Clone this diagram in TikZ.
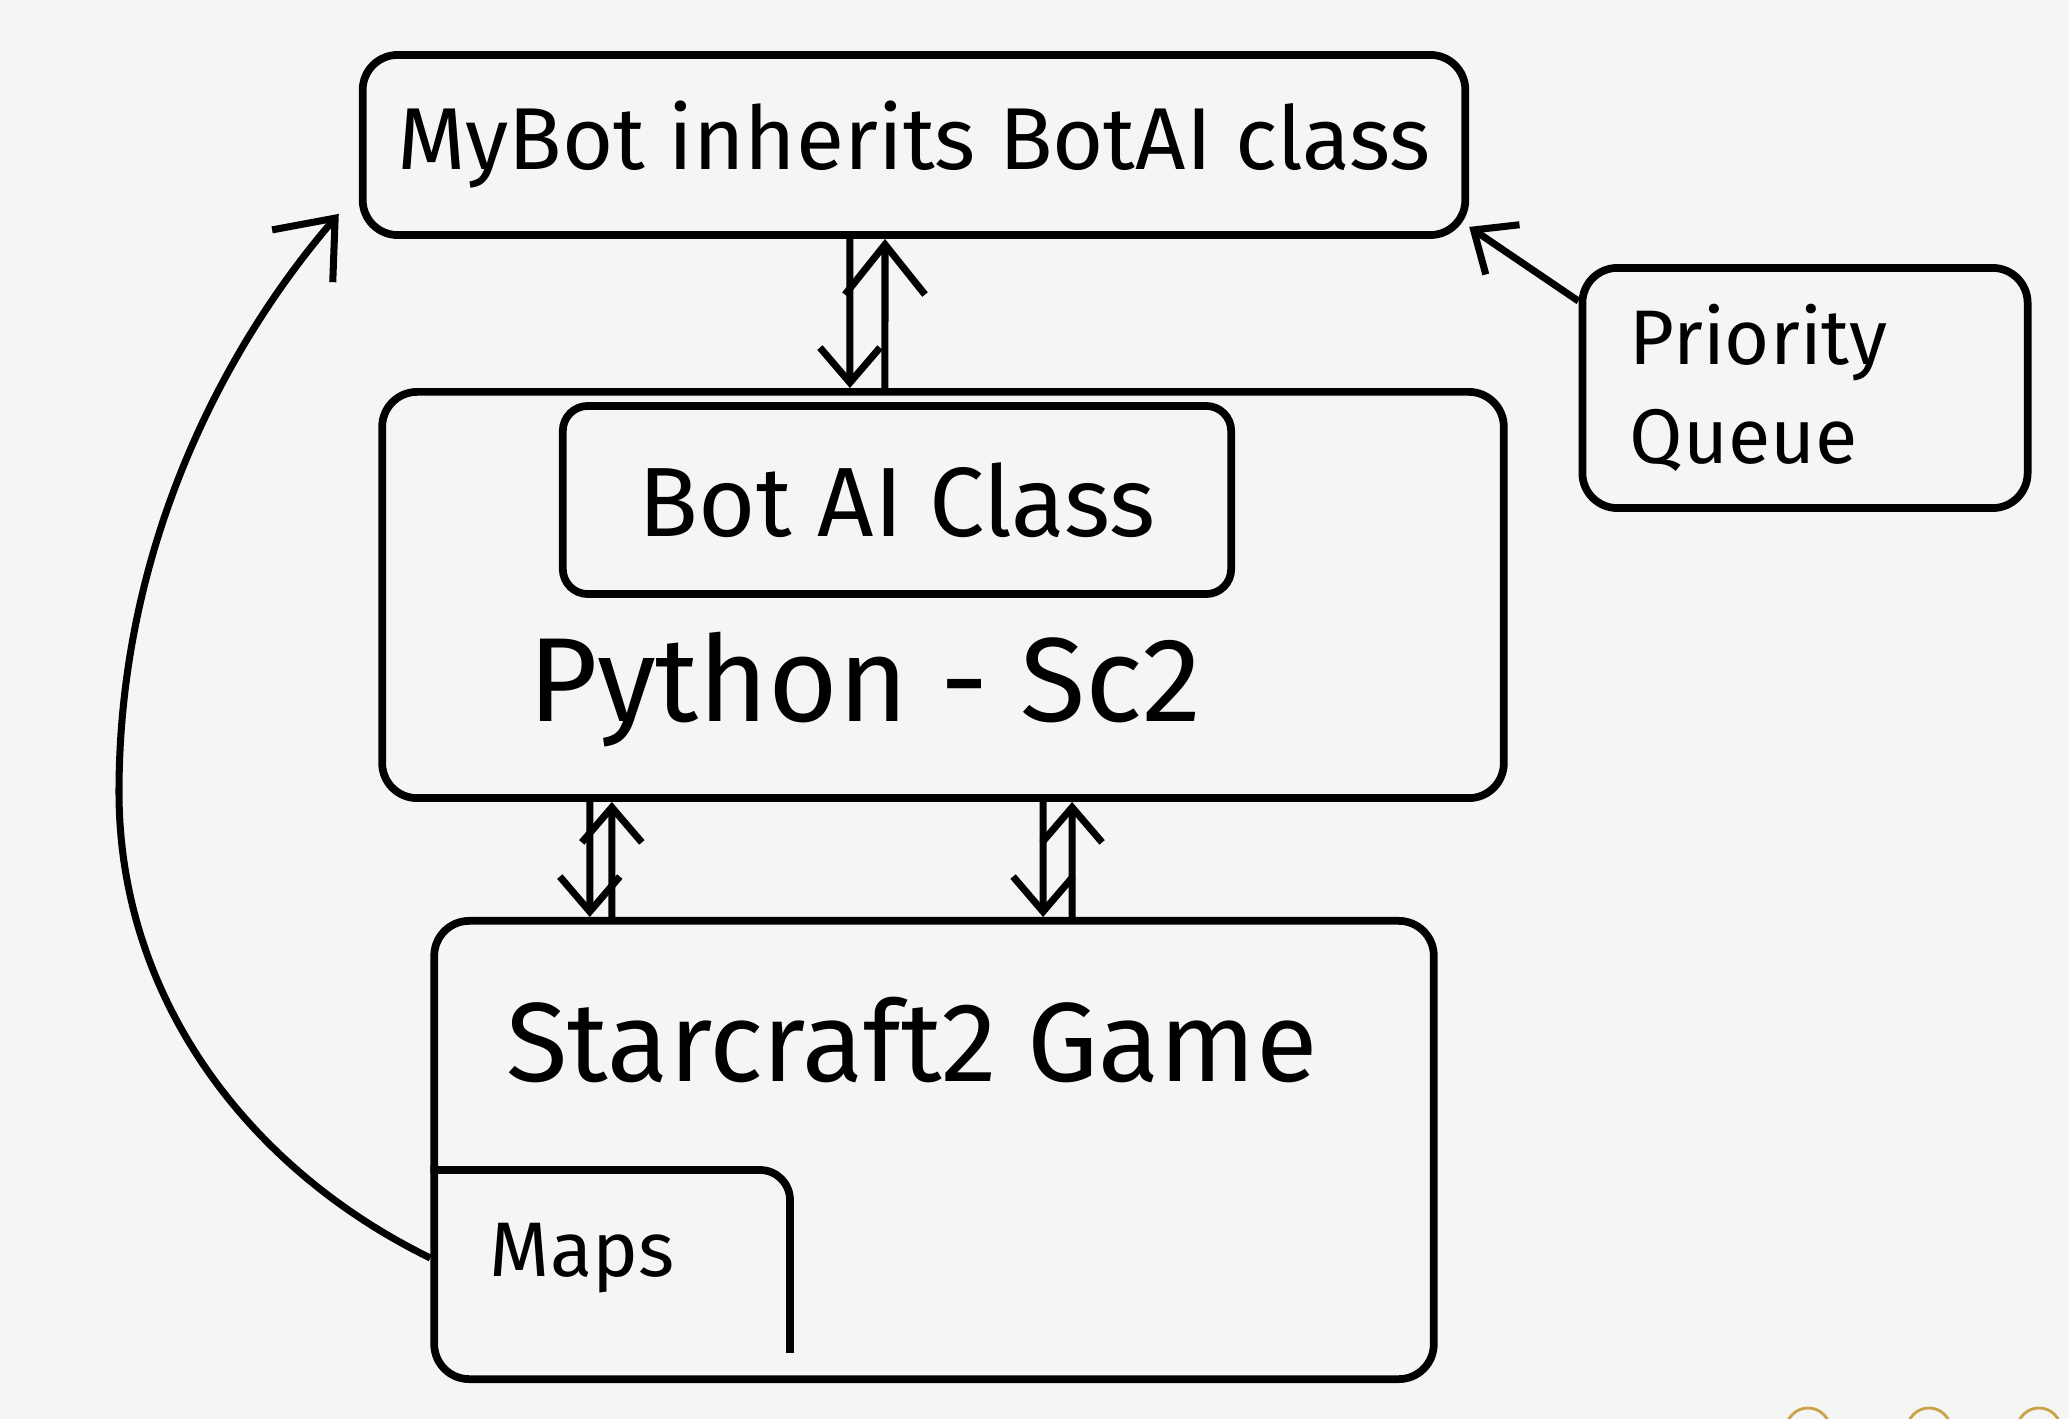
\documentclass[tikz,border=0pt]{standalone}
\usepackage{fontspec}
\setmainfont{Fira Sans}
\usetikzlibrary{arrows.meta}
\definecolor{paper}{HTML}{F5F5F3}
\definecolor{dotring}{HTML}{C9A24A}
\begin{document}
\begin{tikzpicture}[x=0.01cm, y=-0.01cm,
	box/.style={draw=black, line width=2.2pt, rounded corners=0.35cm, inner sep=0pt},
	link/.style={line width=2pt, -{Straight Barb[length=0.35cm, width=0.6cm, line width=2pt]}},
	biglink/.style={line width=2pt, -{Straight Barb[length=0.5cm, width=0.8cm, line width=2pt]}}]
		\fill[paper] (0,0) rectangle (2069,1419);
		\useasboundingbox (0,0) rectangle (2069,1419);
		\node[box, minimum width=11.02cm, minimum height=1.8cm](mybot) at (914,145){\fontsize{25}{30}\selectfont MyBot inherits BotAI class};
		\node[box, minimum width=4.45cm, minimum height=2.4cm, text width=3.5cm, align=left, font=\fontsize{22}{28}\selectfont](queue) at (1805,388){Priority\\Queue};
		\node[box, minimum width=11.21cm, minimum height=4.06cm](python) at (943,595){};
		\node[box, minimum width=6.68cm, minimum height=1.88cm, rounded corners=0.25cm](botai) at (897,500){\fontsize{28}{34}\selectfont Bot AI Class};
		\node(pythonlabel) at (865,690){\fontsize{34}{40}\selectfont Python - Sc2};
		\node[box, minimum width=9.99cm, minimum height=4.58cm](game) at (934,1150){};
		\node(gamelabel) at (912,1040){\fontsize{32}{38}\selectfont Starcraft2 Game};
		\coordinate (mapscorner) at (790,1170);
		\draw[line width=2.2pt, rounded corners=0.3cm] (game.west |- mapscorner) -- (mapscorner) -- ([yshift=0.3cm]mapscorner |- game.south);
		\node(maps) at (582,1258){\fontsize{22}{26}\selectfont Maps};
		% MyBot <-> Python-Sc2
		\draw[link] ([xshift=-0.64cm]mybot.south) -- ([xshift=-0.93cm]python.north);
		\draw[biglink] ([xshift=-0.58cm]python.north) -- ([xshift=-0.29cm]mybot.south);
		% Python-Sc2 <-> Starcraft2
		\draw[link] ([xshift=-3.53cm]python.south) -- ([xshift=-3.44cm]game.north);
		\draw[link] ([xshift=-3.22cm]game.north) -- ([xshift=-3.31cm]python.south);
		\draw[link] ([xshift=1.00cm]python.south) -- ([xshift=1.09cm]game.north);
		\draw[link] ([xshift=1.38cm]game.north) -- ([xshift=1.29cm]python.south);
		% maps back to the bot
		\draw[biglink] (game.west |- maps) .. controls (250,1170) and (119,1000) .. (119,792) .. controls (119,540) and (230,340) .. ([xshift=-0.2cm, yshift=0.25cm]mybot.south west);
		\draw[link] ([yshift=-0.37cm]queue.north west) -- ([yshift=0.12cm]mybot.south east);
		\foreach \cx in {1808,1929,2039}
			\draw[dotring, line width=0.8pt] (\cx,1430) circle[radius=0.22cm];
	\end{tikzpicture}
\end{document}
